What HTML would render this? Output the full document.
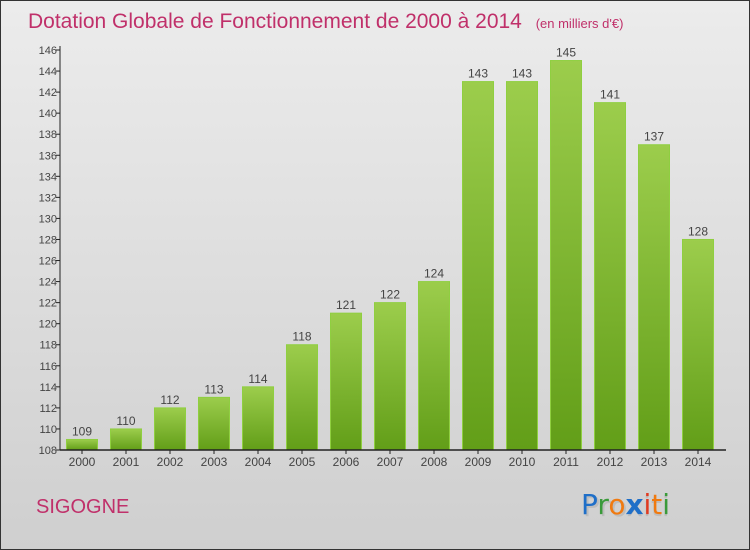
<!DOCTYPE html>
<html><head><meta charset="utf-8"><style>
html,body{margin:0;padding:0}
body{width:750px;height:550px;overflow:hidden;font-family:"Liberation Sans",sans-serif}
#wrap{position:absolute;left:0;top:0;width:748px;height:548px;border:1px solid #333;background:linear-gradient(#ececec,#cfcfcf)}
</style></head><body>
<div id="wrap">
<svg id="chart" width="750" height="550" style="position:absolute;left:-1px;top:-1px">
<defs><linearGradient id="g" x1="0" y1="0" x2="0" y2="1"><stop offset="0" stop-color="#9ccd4c"/><stop offset="1" stop-color="#629e18"/></linearGradient></defs>
<text x="28" y="28" font-size="21" fill="#c0306a">Dotation Globale de Fonctionnement de 2000 à 2014 <tspan font-size="13" dx="8">(en milliers d'€)</tspan></text>
<text x="36" y="513" font-size="20" fill="#c0306a">SIGOGNE</text>
<g font-size="28" font-family="DejaVu Sans, sans-serif">
<text x="583" y="516" fill="#aaa" opacity="0.5">Proxiti</text>
<text x="581" y="514"><tspan fill="#1f6fc8">P</tspan><tspan fill="#3a9a3a">r</tspan><tspan fill="#f07a10">o</tspan><tspan fill="#1f6fc8" font-weight="bold">x</tspan><tspan fill="#e03a20">i</tspan><tspan fill="#f07a10">t</tspan><tspan fill="#3a9a3a">i</tspan></text>
</g>
<g id="plot"></g>
</svg>
</div>
<script>
const categories=["2000","2001","2002","2003","2004","2005","2006","2007","2008","2009","2010","2011","2012","2013","2014"];
const values=[109,110,112,113,114,118,121,122,124,143,143,145,141,137,128];
const yTicks=[108,110,112,114,116,118,120,122,124,126,128,130,132,134,136,138,140,142,144,146];
const yMin=108,yMax=146,top0=50,bot=450,x0=60,step=44,first=82,bw=31;
const y=v=>bot-(v-yMin)/(yMax-yMin)*(bot-top0);
const x=i=>first+i*step;
const NS="http://www.w3.org/2000/svg";
const g=document.getElementById('plot');
function mk(t,a){const e=document.createElementNS(NS,t);for(const k in a)e.setAttribute(k,a[k]);g.appendChild(e);return e;}
yTicks.forEach(t=>{
 const l=mk('line',{x1:x0-4,x2:x0,y1:y(t),y2:y(t),stroke:'#222'});
 
 
 const tx=mk('text',{x:x0-3,y:y(t)+4,'font-size':11,fill:'#444','text-anchor':'end'});
 tx.textContent=t;
 
 
});
categories.forEach((c,i)=>{
 const r=mk('rect',{x:x(i)-bw/2,y:y(values[i]),width:bw,height:bot-y(values[i]),fill:'url(#g)',stroke:'#8fcf40','stroke-width':1});
 
 
 const v=mk('text',{x:x(i),y:y(values[i])-4,'font-size':12,fill:'#444','text-anchor':'middle'});
 v.textContent=values[i];
 
 
 const tk=mk('line',{x1:x(i),x2:x(i),y1:bot,y2:bot+4,stroke:'#222'});
 
 
 const xl=mk('text',{x:x(i),y:bot+16,'font-size':12,fill:'#444','text-anchor':'middle'});
 xl.textContent=c;
 
 
});
const ya=mk('line',{x1:x0,x2:x0,y1:top0-4,y2:bot,stroke:'#222'});


const xa=mk('line',{x1:x0,x2:726,y1:bot,y2:bot,stroke:'#222','stroke-width':1.5});


</script>
</body></html>
